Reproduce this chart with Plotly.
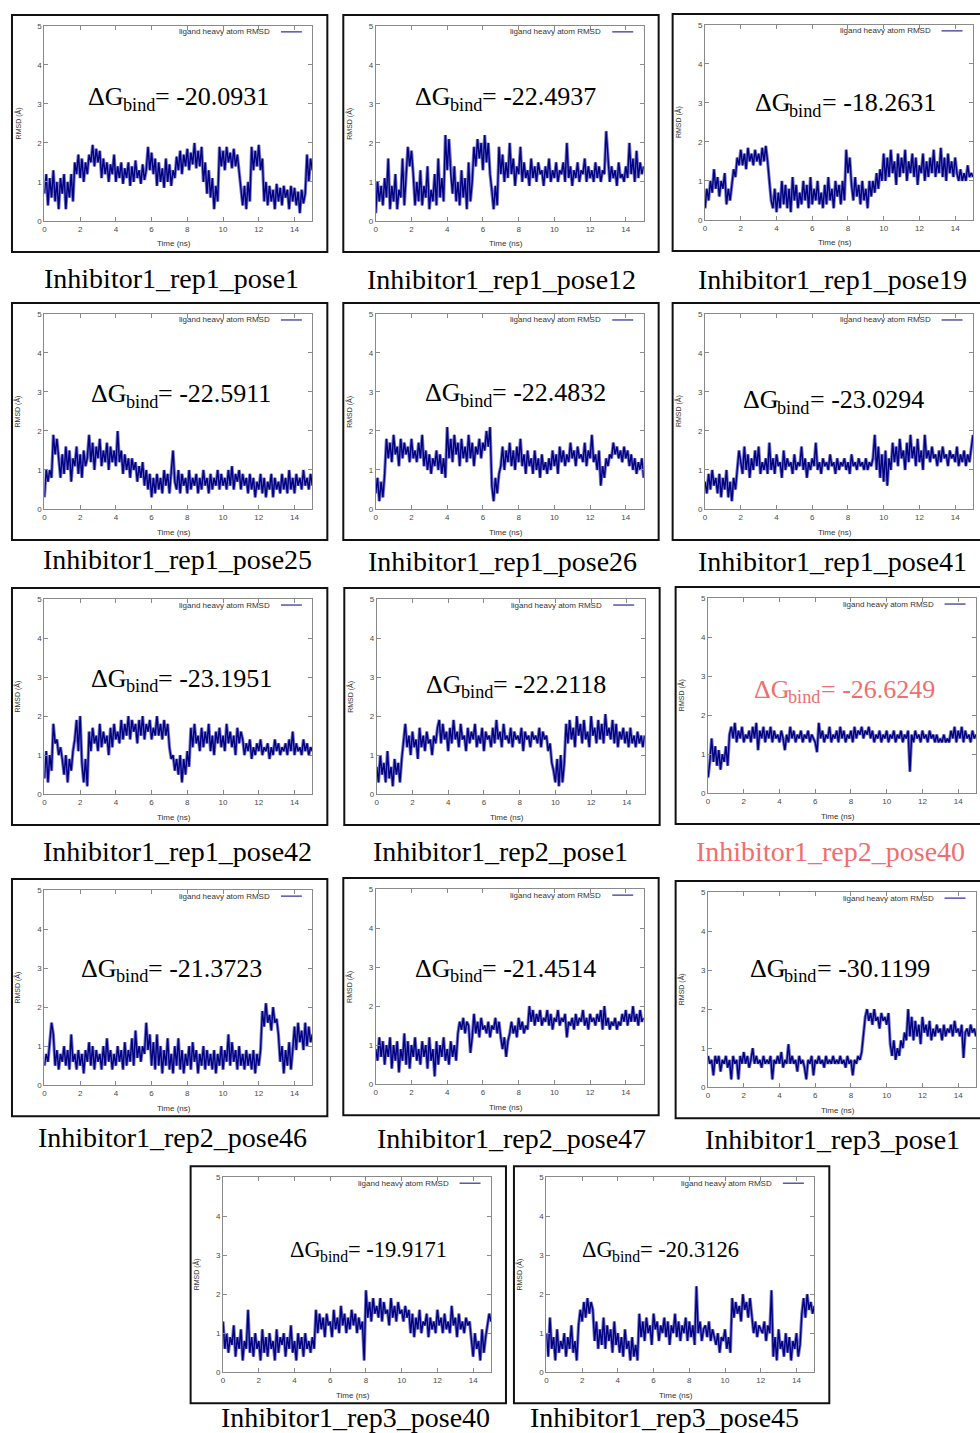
import numpy as np
import plotly.graph_objects as go

W, H = 980, 1433

names = ["Inhibitor1_rep1_pose1", "Inhibitor1_rep1_pose12", "Inhibitor1_rep1_pose19",
         "Inhibitor1_rep1_pose25", "Inhibitor1_rep1_pose26", "Inhibitor1_rep1_pose41",
         "Inhibitor1_rep1_pose42", "Inhibitor1_rep2_pose1", "Inhibitor1_rep2_pose40",
         "Inhibitor1_rep2_pose46", "Inhibitor1_rep2_pose47", "Inhibitor1_rep3_pose1",
         "Inhibitor1_rep3_pose40", "Inhibitor1_rep3_pose45"]
dg_values = ["-20.0931", "-22.4937", "-18.2631", "-22.5911", "-22.4832", "-23.0294",
             "-23.1951", "-22.2118", "-26.6249", "-21.3723", "-21.4514", "-30.1199",
             "-19.9171", "-20.3126"]
highlight_name = "Inhibitor1_rep2_pose40"

x_ticks = [0, 2, 4, 6, 8, 10, 12, 14]
y_ticks = [0, 1, 2, 3, 4, 5]
t_max = 15

rmsd_rep1_pose1 = [0.7,1.2,0.4,1.1,0.6,1.3,0.5,1.0,0.3,1.1,0.7,1.2,0.3,1.0,0.6,1.2,0.5,
    1.5,
    1.2,1.7,1.1,1.6,1.0,1.5,1.2,1.7,
    1.5,1.95,1.4,1.85,1.5,1.8,
    1.1,1.6,1.2,1.5,1.0,1.45,1.2,1.7,1.0,1.4,1.1,1.5,0.95,1.35,1.1,1.5,0.9,1.4,1.0,1.55,1.1,1.3,0.95,1.45,1.05,1.3,
    1.9,1.3,1.75,1.2,1.6,
    0.9,1.5,1.0,1.35,0.85,1.6,1.0,1.45,0.9,1.3,1.1,1.65,
    1.3,1.8,1.2,1.7,1.4,1.85,1.3,1.75,1.45,2.0,1.35,1.8,1.4,1.9,
    1.0,1.5,0.7,1.3,0.6,1.1,
    0.3,0.9,0.5,
    1.9,1.4,1.8,1.3,1.9,1.5,1.75,1.35,1.85,1.4,1.7,1.3,
    0.8,0.4,0.9,0.3,1.0,0.5,
    1.9,1.3,1.8,1.4,1.95,1.3,1.6,
    0.5,1.0,0.4,0.9,0.5,0.8,0.3,0.95,0.5,0.85,0.4,0.9,0.6,0.8,0.3,0.9,0.5,0.85,0.4,0.75,0.2,0.8,0.45,0.7,
    1.7,1.0,1.6,1.3]

rmsd_rep1_pose12 = [0.2,1.0,0.5,0.9,0.4,1.1,0.6,1.6,0.3,0.9,0.5,1.2,0.3,0.8,0.6,1.6,0.4,1.2,
    1.9,1.4,1.8,1.2,
    0.4,1.0,0.5,1.3,0.4,0.9,0.6,1.4,0.3,0.8,0.5,1.2,0.4,1.6,0.6,1.1,0.5,
    2.2,1.3,2.1,1.2,
    0.7,1.4,0.5,1.0,0.4,1.3,0.6,1.1,0.3,1.5,0.5,1.0,
    1.9,1.4,2.1,1.6,2.0,1.3,2.2,1.5,2.0,1.2,
    0.8,0.3,0.9,0.4,
    1.9,1.2,1.7,1.0,1.5,1.1,2.0,1.2,1.6,0.9,1.4,1.2,1.9,1.0,1.5,1.1,1.3,0.9,1.6,1.1,
    1.4,1.0,1.5,1.2,1.3,0.9,1.4,1.1,1.6,1.0,1.3,1.1,1.5,1.0,1.3,1.2,1.5,1.0,2.0,1.1,
    1.4,0.9,1.3,1.1,1.5,1.0,1.3,1.2,1.6,1.0,1.4,1.1,1.3,1.0,1.5,1.1,1.4,1.0,1.3,1.2,
    2.3,1.5,1.0,1.4,1.1,1.3,0.9,1.5,1.1,1.2,1.0,1.4,1.1,2.0,1.2,1.6,1.0,1.8,1.1,1.5,
    1.2,1.4]

rmsd_rep1_pose19 = [0.3,0.8,0.5,
    1.0,0.7,1.3,0.8,1.1,0.6,1.0,0.8,1.2,
    0.4,0.8,0.5,
    1.0,1.3,1.1,1.6,1.4,
    1.8,1.4,1.7,1.3,1.85,1.5,1.7,1.4,1.8,1.5,1.7,1.4,1.85,1.5,1.9,1.5,
    1.0,0.5,0.3,
    0.8,0.2,0.7,0.3,1.0,0.4,0.9,0.3,0.8,0.2,1.1,0.5,0.9,0.3,0.7,0.4,1.0,0.5,0.9,0.3,
    1.1,0.4,0.8,0.5,1.0,0.4,0.7,0.3,0.9,0.4,1.1,0.5,0.8,0.3,1.0,0.6,0.9,0.4,1.0,0.5,
    1.8,1.2,1.6,
    0.9,0.5,1.1,0.6,0.9,0.4,1.0,0.5,0.8,0.3,1.0,0.6,
    1.0,0.7,1.2,0.8,1.3,1.0,
    1.7,1.0,1.6,1.1,1.8,1.2,1.5,0.9,1.7,1.1,1.6,1.2,1.8,1.0,1.5,1.2,1.7,1.1,1.6,0.9,
    1.4,1.2,1.7,1.0,1.5,1.1,1.6,1.2,1.8,1.1,1.5,1.2,1.85,1.1,1.6,1.0,1.7,1.2,1.5,1.1,
    1.6,1.2,
    1.0,1.3,1.0,1.2,1.0,1.4,1.1,1.2,1.1]

rmsd_rep1_pose25 = [0.3,1.0,0.7,1.0,0.8,
    1.9,1.4,1.8,1.3,
    0.8,1.4,0.9,1.6,1.0,1.5,0.7,1.3,1.1,1.6,0.9,1.4,0.8,1.5,1.1,1.3,
    1.9,1.2,1.7,1.0,1.6,1.3,1.8,1.1,1.5,1.2,1.7,1.0,1.6,1.2,1.5,1.1,2.0,
    1.2,1.5,0.9,1.4,1.0,1.3,0.8,1.3,1.0,1.2,0.7,1.1,0.8,1.2,0.6,1.0,0.5,0.9,0.3,0.8,
    0.4,0.9,0.5,0.8,0.4,1.0,0.6,0.9,0.4,1.0,1.5,0.7,0.5,1.0,0.4,0.9,0.6,0.8,0.4,1.0,
    0.5,0.8,0.6,0.9,0.4,0.8,0.5,1.0,0.6,0.8,0.4,0.9,0.5,0.8,0.6,1.0,0.5,0.9,0.6,0.8,
    0.5,1.0,0.6,1.1,0.5,0.9,0.7,1.0,0.5,0.9,0.6,0.8,0.4,0.9,0.5,0.8,0.3,0.7,0.5,0.9,
    0.4,0.8,0.3,0.7,0.5,0.9,0.3,0.8,0.5,0.7,0.4,0.9,0.5,0.8,0.4,1.0,0.5,0.8,0.4,0.9,
    0.6,0.8,0.5,1.0,0.6,0.8,0.5,0.9,0.6]

rmsd_rep1_pose26 = [0.4,0.8,0.2,0.7,0.3,0.9,
    1.8,1.3,1.7,1.2,1.9,1.4,1.6,1.1,1.8,1.3,1.7,1.4,1.6,1.2,1.8,1.3,1.5,
    1.2,1.7,1.3,1.9,1.1,1.5,1.0,1.4,0.9,1.3,1.1,1.5,1.0,1.4,0.9,
    1.3,0.8,
    2.1,1.3,1.8,1.2,1.9,1.4,1.7,1.1,1.8,1.3,1.6,1.2,1.9,1.3,1.7,1.1,1.6,1.4,1.8,1.3,1.7,1.5,2.0,
    1.6,2.1,
    0.6,0.2,0.8,0.4,0.9,
    1.1,1.6,1.0,1.5,1.2,1.7,1.1,1.5,1.0,1.6,1.2,1.8,1.1,1.4,0.9,1.5,1.1,1.3,0.9,1.5,
    1.0,1.3,0.8,1.4,1.0,1.2,0.9,1.3,1.0,1.5,1.1,1.4,0.9,1.6,1.2,1.5,1.1,1.4,1.2,1.7,
    1.3,1.5,1.1,1.6,1.3,1.4,1.2,1.7,1.1,1.5,1.3,1.9,1.2,1.4,1.0,1.5,0.6,1.1,0.8,1.3,
    1.1,1.4,1.3,1.7,1.4,1.6,1.3,1.5,1.2,1.6,1.3,1.5,1.1,1.4,1.0,1.3,0.9,1.2,1.0,1.3,
    0.8]

rmsd_rep1_pose41 = [0.7,0.4,0.9,0.5,1.0,0.6,0.8,0.4,0.9,0.3,0.8,0.5,1.0,0.3,0.7,0.2,0.8,0.5,
    1.0,1.5,
    1.2,0.9,1.6,1.0,1.4,0.8,1.3,1.0,1.5,1.1,1.6,0.9,1.2,1.0,1.3,0.9,1.7,1.0,1.3,0.9,
    1.4,1.1,1.2,0.8,1.5,1.0,1.3,1.1,1.2,0.9,1.4,1.0,1.2,1.1,1.6,1.0,1.3,0.8,1.2,1.0,
    1.3,1.1,1.7,1.0,1.2,0.9,1.3,1.1,1.2,1.0,1.4,1.1,1.2,0.9,1.3,1.0,1.2,1.1,1.3,1.0,
    1.2,0.9,1.4,1.1,1.2,1.0,1.3,1.1,1.2,1.0,1.3,1.0,1.2,1.1,1.3,
    1.9,1.0,1.6,0.8,1.4,0.7,1.5,0.6,1.3,1.0,
    1.7,1.2,1.6,1.1,1.8,1.3,1.5,1.0,1.7,1.2,1.9,1.3,1.6,1.1,1.8,1.2,1.5,1.0,1.9,1.3,
    1.5,1.2,1.6,1.3,1.4,1.1,1.5,1.2,1.6,1.3,1.4,1.1,1.5,1.3,1.4,1.2,1.6,1.1,1.4,1.2,
    1.5,1.1,1.4,1.2,1.6,1.9]

rmsd_rep1_pose42 = [0.4,1.1,0.3,1.0,0.6,
    1.8,1.3,
    1.4,1.0,1.2,0.9,
    0.5,1.0,0.3,0.9,0.6,1.1,
    1.4,1.9,1.1,2.0,
    0.8,0.3,0.9,0.2,
    1.6,1.1,1.7,1.3,1.5,1.1,1.8,1.2,1.6,1.3,1.5,1.0,1.7,1.2,1.8,1.4,1.6,1.3,
    1.9,1.4,1.8,1.5,2.0,1.4,1.9,1.6,1.8,1.3,1.9,1.5,2.0,1.4,1.8,1.6,1.9,1.4,1.7,1.5,
    2.0,1.5,1.8,1.4,1.9,1.5,1.8,
    1.2,0.9,1.0,0.6,0.9,
    0.5,1.0,0.3,0.9,0.5,1.1,0.7,
    1.7,1.2,1.8,1.3,1.5,1.1,1.7,1.2,1.6,1.3,1.8,1.1,1.5,1.0,1.6,1.3,1.7,1.2,1.5,1.1,
    1.8,1.3,1.6,1.2,1.5,1.0,1.7,1.3,1.6,1.4,
    1.0,1.3,1.1,1.4,0.9,1.2,1.0,1.3,1.1,1.4,1.0,1.2,1.1,1.3,0.9,1.2,1.0,1.4,1.1,1.3,
    1.0,1.2,1.1,1.3,1.0,1.4,1.1,1.6,1.0,1.3,1.1,1.2,1.0,1.4,1.1,1.3,1.0,1.2,1.1]

rmsd_rep2_pose1 = [0.7,0.3,1.0,0.5,0.8,0.3,1.1,0.4,0.7,0.2,0.9,0.5,0.8,0.3,0.9,
    1.3,1.8,
    1.2,1.5,1.0,1.6,1.2,1.4,0.9,1.7,1.2,1.5,1.1,1.6,1.3,1.4,1.0,1.5,1.3,1.7,
    1.9,1.3,1.8,1.4,1.6,1.1,1.7,1.3,1.9,1.4,1.6,1.2,1.8,1.4,1.5,1.1,1.7,1.3,1.6,1.4,
    1.8,1.2,1.5,1.3,1.7,1.1,1.6,1.4,1.5,1.2,1.7,1.3,1.9,1.4,1.6,1.2,1.8,1.4,1.5,1.3,
    1.7,1.2,1.6,1.4,1.5,1.3,1.7,1.1,1.6,1.4,1.5,1.2,1.6,1.4,1.5,1.3,1.7,1.2,1.6,1.4,
    1.5,
    1.1,1.3,0.8,0.6,
    0.3,0.9,0.2,1.0,0.3,0.8,
    1.8,1.3,1.9,1.4,1.7,1.2,2.0,1.5,1.8,1.3,1.9,1.4,1.6,1.2,2.0,1.5,1.7,1.3,1.9,1.4,
    1.8,1.3,2.05,1.5,1.7,1.4,1.9,1.3,1.8,1.2,1.6,1.4,1.7,1.3,1.6,1.2,1.7,1.3,1.5,1.2,
    1.6,1.3,1.5,1.2,1.5]

rmsd_rep2_pose40 = [0.4,0.8,1.4,
    0.8,1.2,0.7,1.1,0.6,1.0,0.8,1.2,
    0.7,1.5,
    1.7,1.4,1.8,1.3,1.6,1.4,1.7,1.3,1.5,1.4,1.6,1.3,1.7,1.4,1.8,1.1,1.6,1.4,1.7,1.3,
    1.6,1.4,1.7,1.3,1.6,1.4,1.5,1.3,1.6,1.4,1.1,1.5,1.3,1.7,1.4,1.6,1.3,1.5,1.4,1.6,
    1.3,1.5,1.4,1.6,1.3,1.5,1.4,1.3,1.05,1.8,1.4,1.6,1.3,1.5,1.4,1.7,1.3,1.5,1.4,1.6,
    1.3,1.7,1.4,1.6,1.3,1.5,1.4,1.6,1.3,1.7,1.4,1.6,1.5,1.7,1.4,1.6,1.5,1.7,1.4,1.6,
    1.3,1.5,1.4,1.6,1.3,1.5,1.4,1.6,1.3,1.5,1.4,1.6,1.3,1.5,1.4,1.6,1.3,1.5,1.4,1.6,
    0.55,1.5,1.3,1.6,1.4,1.5,1.3,1.6,1.4,1.5,1.3,1.6,1.4,1.5,1.3,1.5,1.3,1.4,1.3,1.5,
    1.3,1.4,1.3,1.6,1.4,1.7,1.3,1.6,1.4,1.7,1.3,1.6,1.4,1.5,1.3,1.6,1.4,1.5]

rmsd_rep2_pose46 = [0.5,0.8,0.6,
    1.2,1.6,1.3,
    0.5,0.9,0.4,0.8,0.6,1.0,0.5,0.9,0.4,1.3,0.6,0.8,0.4,0.9,0.5,0.8,0.3,0.9,0.6,1.1,
    0.5,1.0,0.4,0.9,0.6,0.8,0.4,1.0,0.5,1.2,0.6,0.9,0.4,0.8,0.5,1.0,0.6,0.9,0.4,1.1,
    0.5,0.9,0.6,1.2,0.5,1.4,0.7,1.0,0.6,1.0,0.8,1.6,0.9,1.3,0.5,1.1,0.4,1.3,0.5,1.0,
    0.3,0.9,0.5,1.2,0.4,0.8,0.3,1.0,0.5,1.2,0.4,0.9,0.3,0.8,0.5,1.0,0.4,1.1,0.6,0.9,
    0.3,0.8,0.5,1.0,0.4,0.9,0.5,0.8,0.4,0.9,0.3,0.8,0.5,1.0,0.4,0.9,0.6,1.3,0.5,1.1,
    0.6,0.9,0.4,1.0,0.5,0.8,0.4,0.9,0.5,0.8,0.4,0.9,0.3,0.8,0.5,0.9,
    1.9,1.5,2.1,1.6,1.8,1.4,2.0,1.6,1.7,1.3,
    0.6,1.0,0.3,0.9,0.5,1.1,0.4,0.9,
    1.5,0.9,1.6,1.1,1.4,0.9,1.6,1.0,1.5,1.1,1.3]

rmsd_rep2_pose47 = [0.9,0.6,1.2,0.7,1.1,0.5,1.0,0.7,1.2,0.4,1.0,0.6,1.1,0.3,0.9,0.6,1.3,0.5,1.1,0.4,
    1.0,0.7,1.2,0.6,0.9,0.5,1.1,0.7,1.0,0.4,1.2,0.6,0.9,0.2,1.1,0.5,1.0,0.7,1.2,0.6,
    0.9,0.5,1.1,0.7,1.0,0.6,
    1.3,1.6,1.4,1.7,1.3,1.6,1.5,
    0.8,1.2,
    1.8,1.3,1.6,1.2,1.7,1.4,1.5,1.3,1.6,1.2,1.5,1.4,1.7,1.3,1.6,1.2,
    0.9,1.2,0.7,1.1,1.3,
    1.6,1.3,1.5,1.2,1.7,1.4,1.6,1.3,1.5,1.4,
    2.0,1.6,1.9,1.5,1.8,1.6,1.9,1.5,1.7,1.6,1.9,1.5,1.8,1.4,1.7,1.6,1.9,1.5,1.7,1.6,
    1.8,1.2,1.6,1.5,1.7,1.4,1.8,1.5,1.7,1.6,1.9,1.5,1.7,1.4,1.8,1.6,1.7,1.5,1.8,1.6,
    1.9,1.4,2.0,1.5,1.7,1.4,1.6,1.5,1.7,1.4,1.6,1.5,1.8,1.6,1.9,1.5,1.8,1.6,2.0,1.6,
    1.8,1.5,1.9,1.6,1.7]

rmsd_rep3_pose1 = [0.8,0.6,0.7,0.3,0.8,0.6,0.8,0.4,0.7,0.6,0.8,0.5,0.7,0.2,0.8,0.6,0.7,0.2,0.8,0.6,
    0.9,0.6,0.8,0.5,0.7,1.0,0.6,0.8,0.6,0.7,0.5,0.8,0.6,0.7,0.6,0.8,0.2,0.7,0.6,0.8,
    0.6,0.9,0.5,0.7,0.6,1.1,0.6,0.8,0.6,0.7,0.4,0.8,0.6,0.7,0.5,0.2,0.7,0.6,0.8,0.3,
    0.7,0.6,0.8,0.6,0.7,0.5,0.8,0.6,0.7,0.6,0.8,0.6,0.7,0.6,0.8,0.6,0.7,0.5,0.8,0.6,
    0.7,0.3,0.7,0.6,0.8,0.7,
    0.9,1.4,1.8,
    2.0,1.7,1.9,1.6,2.0,1.7,1.8,1.5,1.9,1.7,1.8,1.6,1.9,
    1.1,0.8,1.2,0.7,1.0,0.8,1.2,
    1.0,1.4,1.2,
    2.0,1.3,1.8,1.2,1.7,1.3,1.6,1.1,1.8,1.4,1.6,1.3,1.7,1.2,1.5,1.3,1.6,1.4,1.5,1.2,
    1.6,1.3,1.5,1.4,1.6,1.3,1.7,1.4,1.5,1.3,1.6,0.75,1.4,1.5,1.3,1.6,1.4,1.5,1.3]

rmsd_rep3_pose40 = [1.3,0.6,1.0,0.5,0.9,0.7,1.2,0.4,0.9,0.6,1.1,0.3,0.8,0.6,1.6,0.5,0.9,0.4,1.0,0.6,
    0.8,0.3,1.1,0.5,0.9,0.4,1.0,0.6,0.8,0.3,1.1,0.5,0.9,0.7,1.0,0.4,0.9,0.6,1.2,0.5,
    0.8,0.3,1.0,0.6,0.9,0.4,1.0,0.6,0.8,0.5,0.9,0.6,
    1.6,1.0,1.5,1.1,1.4,0.9,1.5,1.2,1.3,0.9,1.6,1.1,1.4,1.0,1.7,1.2,1.5,1.0,1.4,1.1,
    1.6,1.2,1.5,1.0,1.4,1.1,1.3,0.3,
    2.1,1.4,1.8,1.3,1.9,1.5,1.7,1.4,1.9,1.3,1.8,1.5,1.6,1.2,1.9,1.4,1.7,1.3,1.8,1.5,
    1.6,1.3,1.7,1.4,1.6,
    1.0,1.5,0.9,1.4,1.1,1.6,1.0,1.3,1.2,1.5,0.9,1.4,1.1,1.3,1.0,1.6,1.2,1.4,1.0,1.5,
    1.1,1.3,1.0,1.7,1.2,1.4,0.9,1.5,1.1,1.3,1.0,1.4,1.2,1.3,
    0.9,0.4,1.0,0.6,0.8,0.3,1.1,0.5,0.9,
    1.2,1.5,1.3]

rmsd_rep3_pose45 = [1.0,0.4,1.4,0.6,0.9,0.3,1.1,0.5,0.8,0.6,1.0,0.4,0.9,0.6,1.2,0.5,0.8,0.3,
    1.2,1.6,1.3,1.8,1.4,1.9,1.5,1.8,1.6,
    0.8,1.3,0.6,1.1,0.7,1.4,0.6,1.2,0.8,1.1,0.5,1.3,0.7,
    1.0,0.5,0.9,0.4,1.1,0.6,0.8,0.3,0.9,0.4,0.7,0.3,
    1.5,0.9,1.3,0.8,1.4,1.0,1.2,0.7,1.5,1.1,1.3,0.8,1.2,1.0,1.4,0.9,1.3,0.7,1.2,1.0,
    1.5,0.9,1.3,0.8,1.2,1.0,1.4,0.8,1.3,0.9,1.2,0.7,2.2,1.0,1.3,0.8,1.1,1.2,0.9,1.3,
    0.8,1.1,0.9,
    0.7,1.0,0.5,0.9,0.8,1.1,0.6,0.9,0.5,
    1.9,1.4,1.8,1.5,1.7,1.3,2.0,1.6,1.8,1.4,1.9,1.5,
    1.0,1.3,0.9,1.2,1.1,1.0,1.3,0.8,1.2,1.0,
    2.1,
    0.4,0.9,0.3,1.1,0.6,0.8,0.4,1.0,0.5,0.9,0.3,0.8,0.6,1.0,0.4,0.7,
    1.5,1.9,1.4,2.0,1.6,1.8,1.5,1.7]

series = [rmsd_rep1_pose1, rmsd_rep1_pose12, rmsd_rep1_pose19, rmsd_rep1_pose25,
          rmsd_rep1_pose26, rmsd_rep1_pose41, rmsd_rep1_pose42, rmsd_rep2_pose1,
          rmsd_rep2_pose40, rmsd_rep2_pose46, rmsd_rep2_pose47, rmsd_rep3_pose1,
          rmsd_rep3_pose40, rmsd_rep3_pose45]

# layout (pixels): panel frame top-left corners, ΔG label centres, caption centres
frames = [(10, 14), (342, 14), (672, 13), (10, 302), (342, 302), (672, 302),
          (10, 587), (343, 587), (675, 586), (10, 878), (342, 877), (675, 880),
          (189, 1165), (513, 1165)]
dg_pos = [(176, 98), (504, 98), (844, 104), (179, 395), (514, 394), (832, 401),
          (179, 679), (515, 685), (843, 690), (169, 969), (504, 969), (839, 969),
          (366, 1250), (659, 1250)]
cap_pos = [(170, 278), (501, 279), (832, 279), (176, 558), (502, 560), (832, 560),
           (176, 850), (500, 850), (830, 850), (171, 1136), (511, 1137), (832, 1138),
           (354, 1416), (664, 1416)]

FW, FH = 316, 237
LINE = "#000080"
HALO = "#3c3cb4"
RED = "#f06e6e"
GRAY = "#8a8a8a"
SERIF = "Liberation Serif"

# Times-metric advance widths (em) of the glyphs used in the ΔG labels
ADV = {"Δ": 0.612, "G": 0.722, "b": 0.5, "i": 0.278, "n": 0.5, "d": 0.5, "=": 0.564,
       " ": 0.25, "-": 0.333, ".": 0.25}


def text_w(s, size):
    return sum(ADV.get(c, 0.5) for c in s) * size


def px(x):
    return x / W


def py(y):
    # small vertical calibration so the drawn picture lands on the reference pixels
    yy = (y - 3.1) / 0.9935
    return 1 - yy / H


fig = go.Figure()
shapes = []
annotations = []
layout_axes = {}


def label(x, y, text, size, color, family=SERIF, xanchor="left"):
    annotations.append(dict(xref="paper", yref="paper", x=px(x), y=py(y),
                            xanchor=xanchor, yanchor="middle", showarrow=False,
                            borderpad=0, text=text,
                            font=dict(family=family, size=size, color=color)))


for k in range(14):
    fx, fy = frames[k]
    l, r = fx + 32.5, fx + 301
    t, b = fy + 11, fy + 206
    sfx = "" if k == 0 else str(k + 1)
    vals = series[k]
    tt = np.linspace(0, t_max, len(vals))
    # lighter outer stroke + dark core, like the dense trajectory trace
    fig.add_trace(go.Scatter(x=tt, y=vals, mode="lines",
                             line=dict(color=HALO, width=3.2), opacity=0.7,
                             xaxis="x" + sfx, yaxis="y" + sfx,
                             showlegend=False, hoverinfo="skip"))
    fig.add_trace(go.Scatter(x=tt, y=vals, mode="lines",
                             line=dict(color=LINE, width=1.4),
                             xaxis="x" + sfx, yaxis="y" + sfx,
                             showlegend=False, hoverinfo="skip"))
    common = dict(ticks="inside", ticklen=4, tickcolor=GRAY, tickwidth=1,
                  showline=True, linecolor=GRAY, linewidth=1, mirror="allticks",
                  showgrid=False, zeroline=False,
                  tickfont=dict(family="Liberation Sans", size=8, color="#4a4a4a"))
    layout_axes["xaxis" + sfx] = dict(domain=[px(l), px(r)], range=[0, t_max],
                                      tickvals=x_ticks, anchor="y" + sfx, **common)
    layout_axes["yaxis" + sfx] = dict(domain=[py(b), py(t)], range=[0, 5],
                                      tickvals=y_ticks, anchor="x" + sfx, **common)
    # outer black frame
    shapes.append(dict(type="rect", xref="paper", yref="paper",
                       x0=px(fx), x1=px(fx + FW), y0=py(fy), y1=py(fy + FH),
                       line=dict(color="#111111", width=2)))
    # key
    ly = fy + 17
    shapes.append(dict(type="line", xref="paper", yref="paper",
                       x0=px(l + 237), x1=px(l + 258), y0=py(ly), y1=py(ly),
                       line=dict(color=LINE, width=1)))
    label(l + 227, ly, "ligand heavy atom RMSD", 8, "#333333",
          family="Liberation Sans", xanchor="right")
    # axis titles
    annotations.append(dict(xref="paper", yref="paper", x=px(fx + 6), y=py((t + b) / 2),
                            xanchor="center", yanchor="middle", showarrow=False,
                            textangle=-90, text="RMSD (Å)",
                            font=dict(family="Liberation Sans", size=7, color="#333333")))
    label((l + r) / 2 - 4, fy + 229, "Time (ns)", 8, "#333333",
          family="Liberation Sans", xanchor="center")

    is_hl = names[k] == highlight_name
    col = RED if is_hl else "#000000"
    # ΔG_bind label built from three text pieces (main, subscript, value)
    size = 22.5 if k >= 12 else 26
    sub_size = size * 0.7
    main_s, sub_s, val_s = "ΔG", "bind", "= " + dg_values[k]
    total = text_w(main_s, size) + text_w(sub_s, sub_size) + text_w(val_s, size)
    cx, cy = dg_pos[k]
    x0 = cx - total / 2
    label(x0, cy - 2, main_s, size, col)
    x1 = x0 + text_w(main_s, size)
    label(x1, cy + 0.27 * size - 1, sub_s, sub_size, col)
    x2 = x1 + text_w(sub_s, sub_size)
    label(x2, cy - 2, val_s, size, col)
    # caption
    label(cap_pos[k][0], cap_pos[k][1], names[k], 28, col, xanchor="center")

fig.update_layout(width=W, height=H, margin=dict(l=0, r=0, t=0, b=0, pad=0),
                  paper_bgcolor="white", plot_bgcolor="white",
                  shapes=shapes, annotations=annotations, showlegend=False,
                  **layout_axes)

fig.write_html("out.html")
